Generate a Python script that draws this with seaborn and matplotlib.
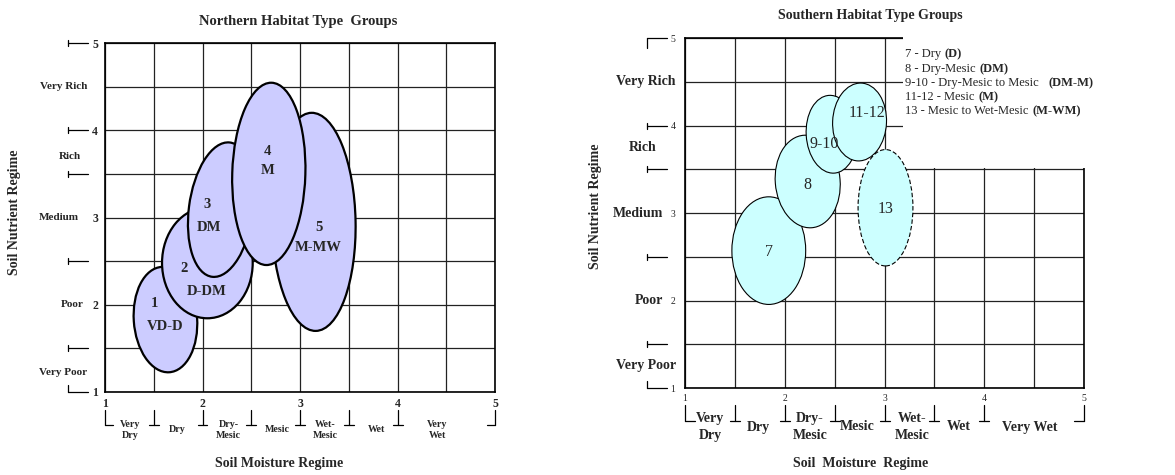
import numpy as np
import matplotlib
matplotlib.use("Agg")
import matplotlib.pyplot as plt
from matplotlib.patches import Ellipse, Rectangle
import seaborn as sns

sns.set_theme(style="white")
plt.rcParams['font.family'] = ['Liberation Serif', 'DejaVu Serif']

# --- scale ---
grid_steps = [1, 1.5, 2, 2.5, 3, 3.5, 4, 4.5, 5]
scale_labels = ["1", "", "2", "", "3", "", "4", "", "5"]
nutrient_brackets = [5, 4, 3.5, 2.5, 1.5, 1]
moisture_brackets = [1, 1.5, 2, 2.5, 3, 3.5, 4, 5]

# --- northern groups ---
north_ids = ["1", "2", "3", "4", "5"]
north_codes = ["VD-D", "D-DM", "DM", "M", "M-MW"]
north_cx = [1.62, 2.05, 2.19, 2.68, 3.14]
north_cy = [1.83, 2.48, 3.09, 3.50, 2.95]
north_w = [0.65, 0.93, 0.66, 0.75, 0.86]
north_h = [1.21, 1.27, 1.55, 2.09, 2.50]
north_tilt = [3.5, 0, -6.5, -1.5, 1]
north_layer = [1, 2, 3, 5, 4]
north_id_x = [1.51, 1.81, 2.05, 2.67, 3.19]
north_id_y = [2.02, 2.41, 3.15, 3.76, 2.88]
north_code_x = [1.62, 2.04, 2.07, 2.67, 3.19]
north_code_y = [1.75, 2.15, 2.89, 3.54, 2.66]

# --- southern groups ---
south_ids = ["7", "8", "9-10", "11-12", "13"]
south_cx = [1.84, 2.23, 2.47, 2.75, 3.01]
south_cy = [2.57, 3.36, 3.90, 4.04, 3.06]
south_w = [0.74, 0.65, 0.51, 0.54, 0.55]
south_h = [1.23, 1.06, 0.89, 0.89, 1.33]
south_tilt = [0, 4, 3, -2, 0]
south_dashed = [False, False, False, False, True]
south_lbl_x = [1.84, 2.23, 2.40, 2.82, 3.01]
south_lbl_y = [2.55, 3.32, 3.79, 4.14, 3.05]

legend_plain = ["7 - Dry ", "8 - Dry-Mesic ", "9-10 - Dry-Mesic to Mesic   ",
                "11-12 - Mesic ", "13 - Mesic to Wet-Mesic "]
legend_bold = ["(D)", "(DM)", "(DM-M)", "(M)", "(M-WM)"]
legend_y = [4.78, 4.61, 4.45, 4.29, 4.13]

# --- class labels ---
moisture_north = ["Very\nDry", "Dry", "Dry-\nMesic", "Mesic", "Wet-\nMesic", "Wet", "Very\nWet"]
moisture_north_x = [1.26, 1.74, 2.27, 2.77, 3.26, 3.78, 4.41]
moisture_south = ["Very\nDry", "Dry", "Dry-\nMesic", "Mesic", "Wet-\nMesic", "Wet", "Very Wet"]
moisture_south_x = [1.25, 1.74, 2.25, 2.73, 3.28, 3.74, 4.46]
nutrient = ["Very Rich", "Rich", "Medium", "Poor", "Very Poor"]
nutrient_north_y = [4.5, 3.70, 3.0, 2.0, 1.22]
nutrient_south_y = [4.5, 3.75, 3.0, 2.0, 1.26]


def setup_axes(ax, num_size, num_weight):
    ax.set_xlim(1, 5)
    ax.set_ylim(1, 5)
    ax.autoscale(False)
    ax.set_xticks(grid_steps)
    ax.set_yticks(grid_steps)
    ax.set_xticklabels(scale_labels, fontsize=num_size, fontweight=num_weight)
    ax.set_yticklabels(scale_labels, fontsize=num_size, fontweight=num_weight)
    ax.tick_params(length=0, pad=4)
    ax.grid(True, color='#222222', lw=0.9)
    ax.set_axisbelow(True)
    for sp in ax.spines.values():
        sp.set_color('black')
        sp.set_linewidth(1.2)


def note(ax, s, xy, off, coords, **kw):
    kw.setdefault('ha', 'center')
    kw.setdefault('va', 'center')
    ax.annotate(s, xy=xy, xycoords=coords, xytext=off, textcoords='offset pixels',
                annotation_clip=False, **kw)


def brackets(ax, x_bar, x_end, top_corner, y_top, y_bot, end_len):
    ux = ax.bbox.width / 4
    uy = ax.bbox.height / 4
    kw = dict(color='black', lw=0.9, clip_on=False)
    xb, xe = 1 + x_bar / ux, 1 + x_end / ux
    for v in nutrient_brackets:
        ax.plot([xb, xe], [v, v], **kw)
        if v == 1:
            seg = [v, v + 7 / uy]
        elif v == 5 and top_corner:
            seg = [v, v - 10 / uy]
        else:
            seg = [v - 3 / uy, v + 3 / uy]
        ax.plot([xb, xb], seg, **kw)
    y0, y1 = 1 - y_top / uy, 1 - y_bot / uy
    for v in moisture_brackets:
        ax.plot([v, v], [y0, y1], **kw)
        if v == 1:
            hx = [v, v + end_len / ux]
        elif v == 5:
            hx = [v - end_len / ux, v]
        else:
            hx = [v - 5 / ux, v + 5 / ux]
        ax.plot(hx, [y1, y1], **kw)


fig = plt.figure(figsize=(11.75, 4.75), dpi=100)
ax_n = fig.add_axes([105 / 1175, 1 - 392 / 475, 390 / 1175, 349 / 475])
ax_s = fig.add_axes([685 / 1175, 1 - 388 / 475, 399 / 1175, 350 / 475])

# ---------------- Northern ----------------
setup_axes(ax_n, 8.5, 'bold')
ax_n.tick_params(axis='y', pad=5)
ax_n.tick_params(axis='x', pad=4)
for i in range(len(north_ids)):
    ax_n.add_patch(Ellipse((north_cx[i], north_cy[i]), north_w[i], north_h[i],
                           angle=north_tilt[i], facecolor='#CCCCFF', edgecolor='black',
                           lw=1.6, zorder=3 + north_layer[i]))
    ax_n.text(north_id_x[i], north_id_y[i], north_ids[i], ha='center', va='center',
              fontsize=10.5, fontweight='bold', zorder=20)
    ax_n.text(north_code_x[i], north_code_y[i], north_codes[i], ha='center', va='center',
              fontsize=10.5, fontweight='bold', zorder=20)

brackets(ax_n, -37, -17, False, 18, 33, 8)
for lab, y, dx in zip(nutrient, nutrient_north_y, [-18, -24, -26, -21, -18]):
    note(ax_n, lab, (0, y), (dx, 0), ('axes fraction', 'data'), ha='right',
         fontsize=8, fontweight='bold')
for lab, x in zip(moisture_north, moisture_north_x):
    note(ax_n, lab, (x, 0), (0, -38), ('data', 'axes fraction'),
         fontsize=7.2, fontweight='bold', linespacing=1.15)
note(ax_n, "Northern Habitat Type  Groups", (0.5, 1), (-2, 21), 'axes fraction',
     fontsize=10.5, fontweight='bold')
note(ax_n, "Soil Moisture Regime", (0.446, 0), (0, -71), 'axes fraction',
     fontsize=10, fontweight='bold')
note(ax_n, "Soil Nutrient Regime", (0, 0.5), (-90, 5), 'axes fraction',
     fontsize=10, fontweight='bold', rotation=90)

# ---------------- Southern ----------------
setup_axes(ax_s, 7, 'normal')
ax_s.tick_params(axis='y', pad=7)
ax_s.tick_params(axis='x', pad=4)
ax_s.add_patch(Rectangle((3.19, 3.52), 2.1, 1.6, facecolor='white', edgecolor='none',
                         zorder=2.6, clip_on=False))
for i in range(len(south_ids)):
    ax_s.add_patch(Ellipse((south_cx[i], south_cy[i]), south_w[i], south_h[i],
                           angle=south_tilt[i], facecolor='#CCFFFF', edgecolor='black',
                           lw=0.8, linestyle=(0, (4, 2)) if south_dashed[i] else '-',
                           zorder=4 + i))
    ax_s.text(south_lbl_x[i], south_lbl_y[i], south_ids[i], ha='center', va='center',
              fontsize=11.5, zorder=20)

brackets(ax_s, -38, -18, True, 17, 33, 10)
for lab, y, dx in zip(nutrient, nutrient_south_y, [-9, -28, -22, -22, -9]):
    note(ax_s, lab, (0, y), (dx, 0), ('axes fraction', 'data'), ha='right',
         fontsize=10, fontweight='bold')
for lab, x in zip(moisture_south, moisture_south_x):
    note(ax_s, lab, (x, 0), (0, -39), ('data', 'axes fraction'),
         fontsize=10, fontweight='bold', linespacing=1.45)
note(ax_s, "Southern Habitat Type Groups", (0.464, 1), (0, 23), 'axes fraction',
     fontsize=10, fontweight='bold')
note(ax_s, "Soil  Moisture  Regime", (0.439, 0), (0, -75), 'axes fraction',
     fontsize=10, fontweight='bold')
note(ax_s, "Soil Nutrient Regime", (0, 0.5), (-90, 7), 'axes fraction',
     fontsize=10, fontweight='bold', rotation=90)

# legend text with bold codes
plain_texts = [ax_s.text(3.21, y, s, ha='left', va='baseline', fontsize=9, zorder=20)
               for s, y in zip(legend_plain, legend_y)]
fig.canvas.draw()
renderer = fig.canvas.get_renderer()
inv = ax_s.transData.inverted()
for t, b, y in zip(plain_texts, legend_bold, legend_y):
    bb = t.get_window_extent(renderer)
    x_end = inv.transform((bb.x1, bb.y0))[0]
    ax_s.text(x_end, y, b, ha='left', va='baseline', fontsize=9, fontweight='bold',
              zorder=20)

fig.savefig("out.png", dpi=100)
